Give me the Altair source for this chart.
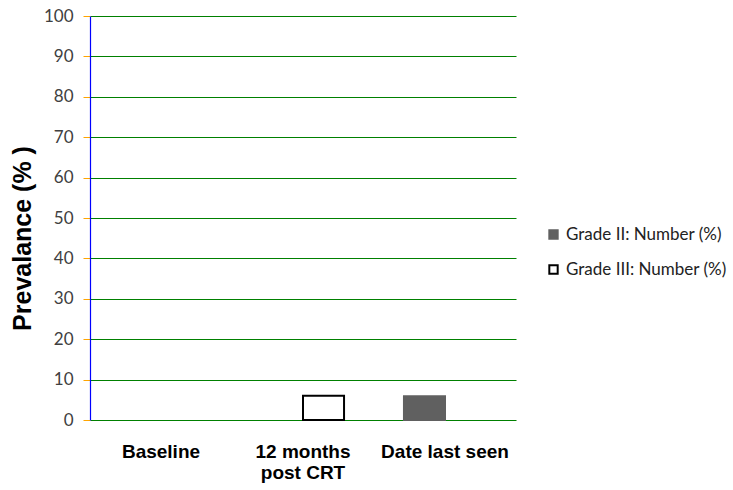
import altair as alt
import pandas as pd

categories = ["Baseline", "12 months post CRT", "Date last seen"]
grades = ["Grade II: Number (%)", "Grade III: Number (%)"]
grade2_values = [0, 0, 5.9]
grade3_values = [0, 6, 0]

rows = []
for c, v2, v3 in zip(categories, grade2_values, grade3_values):
    rows.append({"category": c, "grade": grades[0], "value": v2})
    rows.append({"category": c, "grade": grades[1], "value": v3})
df = pd.DataFrame(rows)

chart = (
    alt.Chart(df)
    .transform_filter("datum.value > 0")
    .mark_bar(strokeWidth=2)
    .encode(
        x=alt.X(
            "category:N",
            sort=categories,
            scale=alt.Scale(domain=categories, paddingInner=0, paddingOuter=0),
            axis=alt.Axis(
                title=None,
                labelAngle=0,
                labelFont="Liberation Sans",
                labelFontWeight="bold",
                labelFontSize=19,
                labelColor="black",
                labelPadding=22,
                labelExpr="datum.value == '12 months post CRT' ? ['12 months', 'post CRT'] : datum.value",
                labelLineHeight=21,
                ticks=False,
                grid=False,
                domain=False,
            ),
        ),
        xOffset=alt.XOffset(
            "grade:N",
            scale=alt.Scale(domain=grades, paddingInner=0, paddingOuter=0.73),
        ),
        y=alt.Y(
            "value:Q",
            scale=alt.Scale(domain=[0, 100]),
            axis=alt.Axis(
                title="Prevalance (% )",
                titleFont="Liberation Sans",
                titleFontWeight="bold",
                titleFontSize=25,
                titleColor="black",
                titleX=-55,
                titleY=222,
                titleAngle=-90,
                titleAlign="center",
                values=list(range(0, 101, 10)),
                labelFont="Lato",
                labelFontSize=17,
                labelColor="#404040",
                labelPadding=10,
                tickSize=7,
                tickColor="orange",
                domainColor="blue",
                domainWidth=1.2,
                gridColor="green",
                gridWidth=1.2,
            ),
        ),
        fill=alt.Fill(
            "grade:N",
            scale=alt.Scale(domain=grades, range=["#606060", "white"]),
            legend=alt.Legend(
                title=None,
                orient="none",
                legendX=455,
                legendY=210,
                symbolType="square",
                symbolSize=70,
                symbolStrokeWidth=2,
                labelFont="Lato",
                labelFontSize=17,
                labelLimit=400,
                labelColor="#222222",
                rowPadding=17,
                labelOffset=4,
            ),
        ),
        stroke=alt.Stroke(
            "grade:N",
            scale=alt.Scale(domain=grades, range=["#606060", "black"]),
            legend=None,
        ),
    )
    .properties(
        width=426,
        height=404,
        background="white",
        autosize=alt.AutoSizeParams(type="none"),
        padding={"left": 90, "top": 16, "right": 217, "bottom": 70},
    )
    .configure_view(stroke="white", strokeOpacity=0, strokeWidth=0)
)

chart.save("out.html", embed_options={"renderer": "svg", "actions": False})
